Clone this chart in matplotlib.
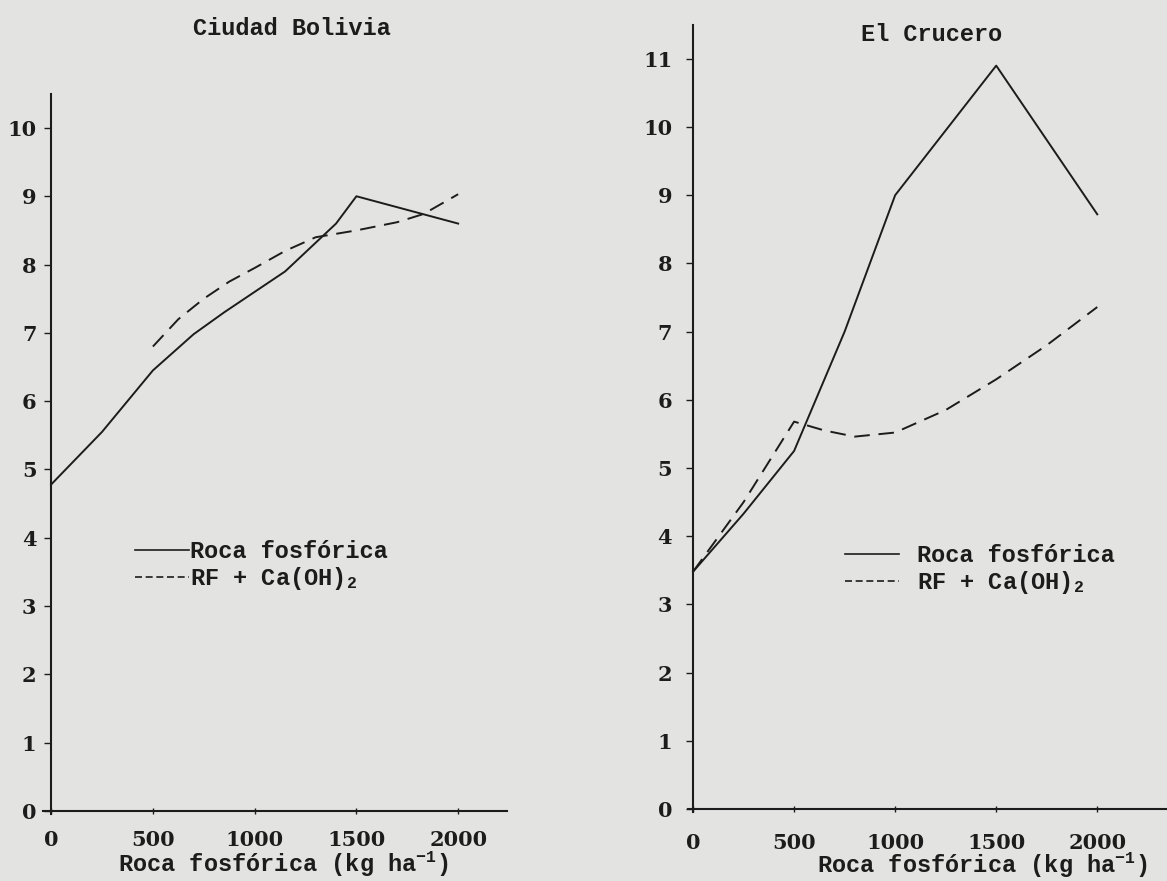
import matplotlib
matplotlib.use("Agg")
import matplotlib.pyplot as plt
from matplotlib.lines import Line2D

plt.rcParams['mathtext.fontset'] = 'custom'
plt.rcParams['mathtext.rm'] = 'Liberation Mono:bold'
plt.rcParams['mathtext.default'] = 'rm'

# Ciudad Bolivia
cb_x_rf = [0, 250, 500, 700, 850, 1000, 1150, 1300, 1400, 1500, 2000]
cb_y_rf = [4.78, 5.55, 6.45, 6.98, 7.3, 7.6, 7.9, 8.32, 8.6, 9.0, 8.6]
cb_x_cal = [500, 625, 750, 875, 1000, 1150, 1300, 1500, 1700, 1830, 2000]
cb_y_cal = [6.8, 7.2, 7.5, 7.75, 7.95, 8.2, 8.4, 8.5, 8.62, 8.74, 9.03]

# El Crucero
ec_x_rf = [0, 250, 500, 550, 750, 1000, 1250, 1500, 2000]
ec_y_rf = [3.48, 4.33, 5.25, 5.6, 7.0, 9.0, 9.95, 10.9, 8.72]
ec_x_cal = [0, 250, 500, 650, 800, 1000, 1250, 1500, 1750, 2000]
ec_y_cal = [3.48, 4.5, 5.68, 5.55, 5.46, 5.52, 5.85, 6.3, 6.8, 7.36]

x_ticks = [0, 500, 1000, 1500, 2000]
labels = ['Roca fosfórica', 'RF + Ca(OH)$_2$']
xlabel = 'Roca fosfórica (kg ha$^{-1}$)'

bg = '#e3e3e1'
ink = '#1c1c1c'
W, H = 1167, 881

fig = plt.figure(figsize=(11.67, 8.81), dpi=100, facecolor=bg)
ax1 = fig.add_axes([43 / W, (H - 814.4) / H, 464 / W, 720.6 / H], facecolor=bg)
ax2 = fig.add_axes([688 / W, (H - 812.4) / H, 480 / W, 787.7 / H], facecolor=bg)

mono = 'Liberation Mono'
serif = 'DejaVu Serif'

for ax, xr, yr, xc, yc, ymax, xl, ypad, xpad in [
        (ax1, cb_x_rf, cb_y_rf, cb_x_cal, cb_y_cal, 10, (-40, 2240), 5.5, 11),
        (ax2, ec_x_rf, ec_y_rf, ec_x_cal, ec_y_cal, 11, (-25, 2350), 10, 14.5)]:
    ax.plot(xr, yr, color=ink, lw=1.4)
    ax.plot(xc, yc, color=ink, lw=1.4, dashes=(8, 4.5))
    ax.set_xlim(*xl)
    ax.set_ylim(-0.05, ymax + 0.5)
    ax.spines['top'].set_visible(False)
    ax.spines['right'].set_visible(False)
    ax.spines['left'].set_position(('data', 0))
    ax.spines['bottom'].set_position(('data', 0))
    for s in ('left', 'bottom'):
        ax.spines[s].set_linewidth(1.5)
        ax.spines[s].set_color(ink)
    ax.set_xticks(x_ticks)
    ax.set_yticks(range(0, ymax + 1))
    ax.tick_params(axis='y', direction='out', length=5, width=1, color=ink, pad=ypad)
    ax.tick_params(axis='x', direction='inout', length=5, width=1, color=ink, pad=xpad)
    for t in ax.get_xticklabels() + ax.get_yticklabels():
        t.set_fontfamily(serif)
        t.set_fontweight('bold')
        t.set_fontsize(15)
        t.set_color(ink)
    ax.set_xlabel(xlabel, fontfamily=mono, fontweight='bold', fontsize=17, color=ink, va='center')

ax1.xaxis.set_label_coords(0.517, -0.070)
ax2.xaxis.set_label_coords(0.6125, -0.0675)

ax1.text(0.537, 1.091, 'Ciudad Bolivia', transform=ax1.transAxes, ha='center', va='center',
         fontfamily=mono, fontweight='bold', fontsize=17, color=ink)
ax2.text(0.508, 0.987, 'El Crucero', transform=ax2.transAxes, ha='center', va='center',
         fontfamily=mono, fontweight='bold', fontsize=17, color=ink)

handles = [Line2D([], [], color=ink, lw=1.2),
           Line2D([], [], color=ink, lw=1.2, dashes=(4.2, 2.2))]
leg_font = {'family': mono, 'weight': 'bold', 'size': 17}
leg1 = ax1.legend(handles, labels, loc='center left',
                  bbox_to_anchor=(135 / W, 1 - 566 / H), bbox_transform=fig.transFigure,
                  frameon=False, borderpad=0, borderaxespad=0, handlelength=2.3, handletextpad=0.05,
                  labelspacing=0.1, prop=leg_font)
leg2 = ax2.legend(handles, labels, loc='center left',
                  bbox_to_anchor=(845 / W, 1 - 570 / H), bbox_transform=fig.transFigure,
                  frameon=False, borderpad=0, borderaxespad=0, handlelength=2.3, handletextpad=0.75,
                  labelspacing=0.1, prop=leg_font)
for leg in (leg1, leg2):
    for t in leg.get_texts():
        t.set_color(ink)

fig.savefig('out.png', dpi=100, facecolor=bg)
